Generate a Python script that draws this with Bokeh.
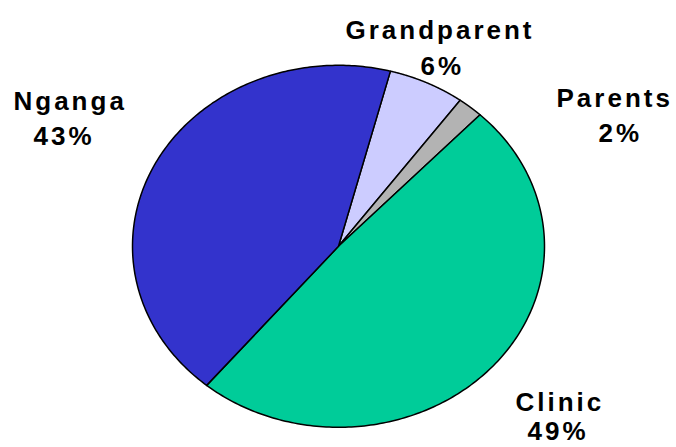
import numpy as np
from bokeh.plotting import figure
from bokeh.models import Range1d, ColumnDataSource, Label
from bokeh.embed import file_html
from bokeh.resources import INLINE

# Data (clockwise order starting at the top boundary)
categories = ["Grandparent", "Parents", "Clinic", "Nganga"]
percents = [6, 2, 49, 43]
colors = ["#CCCCFF", "#B3B3B3", "#00CC99", "#3333CC"]

# Layout
start_angle_deg = 75.4
W, H = 676, 447
cx_px, cy_px = 338, 245.8   # pie centre inside canvas
rx_px, ry_px = 206, 181

p = figure(width=W, height=H, output_backend="svg", toolbar_location=None,
           min_border=0,
           x_range=Range1d(-cx_px / rx_px, (W - cx_px) / rx_px),
           y_range=Range1d(-(H - cy_px) / ry_px, cy_px / ry_px))
p.axis.visible = False
p.grid.visible = False
p.outline_line_color = None
p.background_fill_color = "white"
p.border_fill_color = "white"
p.styles = {"letter-spacing": "3px"}

vals = np.array(percents, dtype=float)
fr = vals / vals.sum()
ends = np.radians(start_angle_deg) - 2 * np.pi * np.cumsum(fr)
starts = np.concatenate([[np.radians(start_angle_deg)], ends[:-1]])
xs, ys = [], []
for a0, a1 in zip(starts, ends):
    t = np.linspace(a0, a1, 200)
    xs.append(np.concatenate([[0.0], np.cos(t), [0.0]]))
    ys.append(np.concatenate([[0.0], np.sin(t), [0.0]]))
src = ColumnDataSource(dict(xs=xs, ys=ys, color=colors, cat=categories))
p.patches("xs", "ys", source=src, fill_color="color", line_color="black",
          line_width=1.5, line_join="round")

# Label anchors (px: left x, baseline y) for name and percent
name_pos = {"Grandparent": (345, 29), "Parents": (556, 97),
            "Clinic": (515, 401), "Nganga": (13, 100)}
pct_pos = {"Grandparent": (420, 65), "Parents": (598, 132),
           "Clinic": (527, 430), "Nganga": (33, 135)}

for c, v in zip(categories, percents):
    for txt, (px, py) in ((c, name_pos[c]), (f"{v}%", pct_pos[c])):
        p.add_layout(Label(x=px, y=H - py, x_units="screen", y_units="screen",
                           text=txt, text_font="Liberation Sans", text_font_style="bold",
                           text_font_size="26px", text_align="left",
                           text_baseline="alphabetic", text_color="black"))

open("out.html", "w").write(file_html(p, INLINE))
